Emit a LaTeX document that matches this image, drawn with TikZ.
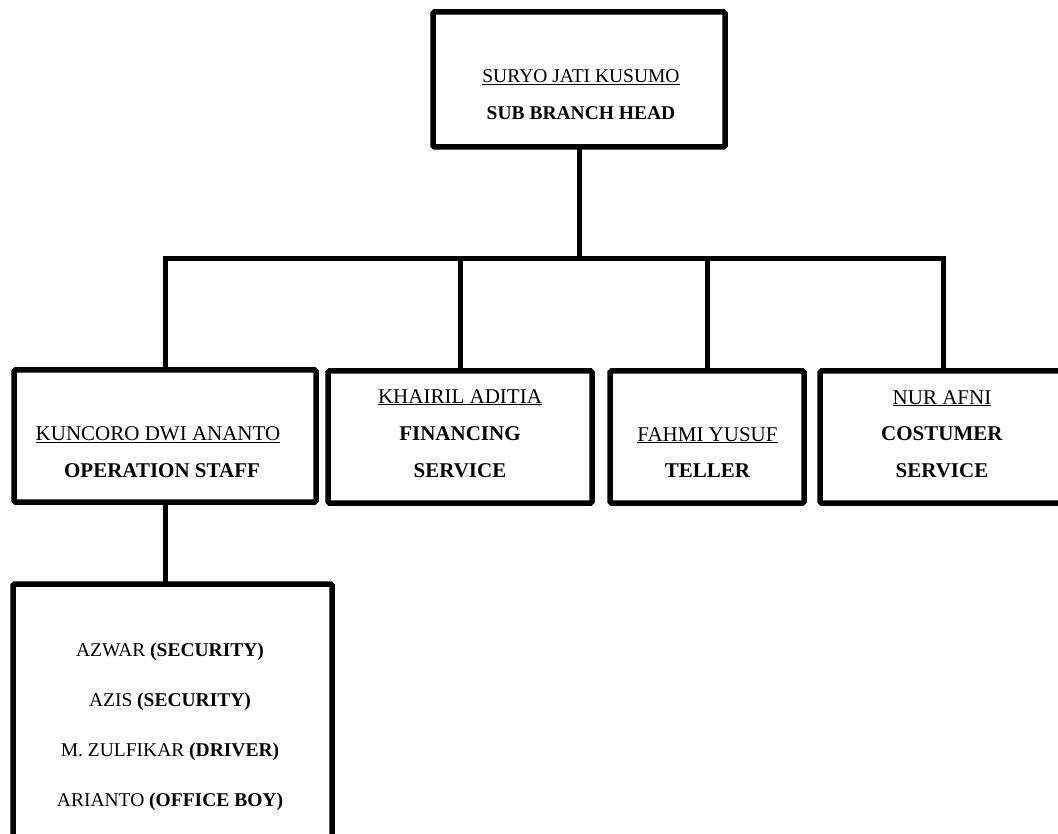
\documentclass[tikz,border=0pt]{standalone}
\usepackage{fontspec}
\setmainfont{Liberation Serif}
\begin{document}
\begin{tikzpicture}[x=1pt,y=-1pt,
  box/.style={draw, line width=5.5pt, rounded corners=1.5pt, inner sep=0pt, fill=white},
  conn/.style={line width=5pt, line cap=rect},
  tt/.style={anchor=base, inner sep=0pt, font=\fontsize{21}{25}\selectfont},
  cb/.style={anchor=base, inner sep=0pt, font=\fontsize{19.5}{23}\selectfont}]
\useasboundingbox (0,0) rectangle (1058,834);
% boxes
\node[box, minimum width=292pt, minimum height=135pt] (top) at (579,79.5) {};
\node[box, minimum width=302pt, minimum height=132pt] (ops) at (165,436) {};
\node[box, minimum width=264pt, minimum height=132pt] (fin) at (460,437) {};
\node[box, minimum width=194pt, minimum height=132pt] (tel) at (707,437) {};
\node[box, minimum width=246pt, minimum height=132pt] (cus) at (943,437) {};
\node[box, minimum width=319pt, minimum height=256pt] (staff) at (172.5,712) {};
\coordinate (bus) at (0,259);
% connectors
\draw[conn] (top.south) -- (top.south |- bus);
\draw[conn] (ops.north) -- (ops.north |- bus) -- (cus.north |- bus) -- (cus.north);
\draw[conn] (fin.north |- bus) -- (fin.north);
\draw[conn] (tel.north |- bus) -- (tel.north);
\draw[conn] (ops.south) -- (ops.south |- staff.north);
% texts
\node[cb] (topn) at (581,83) {\underline{SURYO JATI KUSUMO}};
\node[cb] (topt) at (581,120) {\textbf{SUB BRANCH HEAD}};
\node[tt] (opsn) at (158,440) {\underline{KUNCORO DWI ANANTO}};
\node[tt] (opst) at (162,477) {\textbf{OPERATION STAFF}};
\node[tt] (finn) at (460,403) {\underline{KHAIRIL ADITIA}};
\node[tt] (fint1) at (460,440) {\textbf{FINANCING}};
\node[tt] (fint2) at (460,477) {\textbf{SERVICE}};
\node[tt] (teln) at (707.5,441) {\underline{FAHMI YUSUF}};
\node[tt] (telt) at (707.5,477) {\textbf{TELLER}};
\node[tt] (cusn) at (942,404) {\underline{NUR AFNI}};
\node[tt] (cust1) at (942,440) {\textbf{COSTUMER}};
\node[tt] (cust2) at (942,477) {\textbf{SERVICE}};
\node[cb] (s1) at (170,656) {AZWAR \textbf{(SECURITY)}};
\node[cb] (s2) at (170,706) {AZIS \textbf{(SECURITY)}};
\node[cb] (s3) at (170,756) {M. ZULFIKAR \textbf{(DRIVER)}};
\node[cb] (s4) at (170,806) {ARIANTO \textbf{(OFFICE BOY)}};
\end{tikzpicture}
\end{document}
